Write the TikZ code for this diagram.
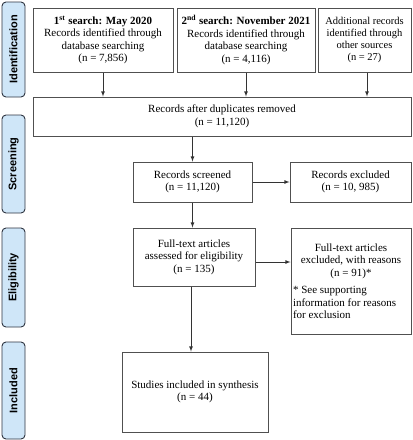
\documentclass[tikz,border=0pt]{standalone}
\usepackage{fontspec}
\setmainfont{Liberation Serif}
\setsansfont{Liberation Sans}
\usepackage{tikz}
\usetikzlibrary{calc,arrows}
\definecolor{stagefill}{HTML}{CFE6F8}
\definecolor{stageline}{HTML}{2E3440}
\definecolor{boxline}{HTML}{505050}
\tikzstyle{arrow} = [->,>=latex,draw=black!80,line width=0.8pt]

\begin{document}
\begin{tikzpicture}[x=1pt,y=-1pt]
    \tikzstyle{stage}=[draw=stageline,fill=stagefill,rounded corners=4pt,line width=0.9pt,rotate=90,minimum height=23pt,inner sep=0pt,font=\sffamily\bfseries\fontsize{11}{13}\selectfont]
    \tikzstyle{record}=[draw=boxline,line width=1pt,inner sep=2pt,align=center,font=\fontsize{11}{12.5}\selectfont]
    \useasboundingbox (0,0) rectangle (413,440);

    % Draw the stage labels on the left
    \foreach \name / \y / \h in {Identification/49.5/95,Screening/164/98,Eligibility/277.5/99,Included/390.5/97}
        \node[stage,minimum width=\h pt] (S-\name) at (13.5,\y) {\name};

    % Draw the identification boxes
    \node[record,minimum width=140pt,minimum height=64pt] (search-1) at (103,40)
        {\textbf{1\textsuperscript{st} search: May 2020}\\Records identified through\\database searching\\(n = 7,856)};
    \node[record,minimum width=138pt,minimum height=64pt] (search-2) at (246,40)
        {\textbf{2\textsuperscript{nd} search: November 2021}\\Records identified through\\database searching\\(n = 4,116)};
    \node[record,minimum width=93pt,minimum height=64pt,font=\fontsize{10.5}{12}\selectfont] (other) at (364.5,40)
        {Additional records\\identified through\\other sources\\(n = 27)};

    % Draw the screening boxes
    \node[record,minimum width=378pt,minimum height=39pt] (dup) at (222,116.5)
        {Records after duplicates removed\\(n = 11,120)};
    \node[record,minimum width=119pt,minimum height=40pt] (screened) at (192.5,182)
        {Records screened\\(n = 11,120)};
    \node[record,minimum width=121pt,minimum height=40pt] (excluded) at (350.5,182)
        {Records excluded\\(n = 10, 985)};

    % Draw the eligibility boxes
    \node[record,minimum width=122pt,minimum height=58pt] (fulltext) at (194,257)
        {Full-text articles\\assessed for eligibility\\(n = 135)};
    \node[record,text width=116pt,minimum height=106pt,align=none] (reasons) at (351,281)
        {{\centering Full-text articles\\excluded, with reasons\\(n = 91)*\par}\vspace{5pt}
         \raggedright * See supporting\\information for reasons\\for exclusion};

    % Draw the included box
    \node[record,minimum width=146pt,minimum height=80pt] (included) at (195,392)
        {Studies included in synthesis\\(n = 44)};

    % Draw the arrows
    \draw[arrow] (search-1.south) -- (search-1.south |- dup.north);
    \draw[arrow] (search-2.south) -- (search-2.south |- dup.north);
    \draw[arrow] ([xshift=2.5pt]other.south) -- ([xshift=2.5pt]other.south |- dup.north);
    \draw[arrow] (screened.north |- dup.south) -- (screened.north);
    \draw[arrow] (screened.east) -- (excluded.west);
    \draw[arrow] (screened.south) -- (screened.south |- fulltext.north);
    \draw[arrow] ([yshift=-5pt]fulltext.east) -- ([yshift=-5pt]fulltext.east -| reasons.west);
    \draw[arrow] ([xshift=-3pt]fulltext.south) -- ([xshift=-3pt]fulltext.south |- included.north);
\end{tikzpicture}
\end{document}
